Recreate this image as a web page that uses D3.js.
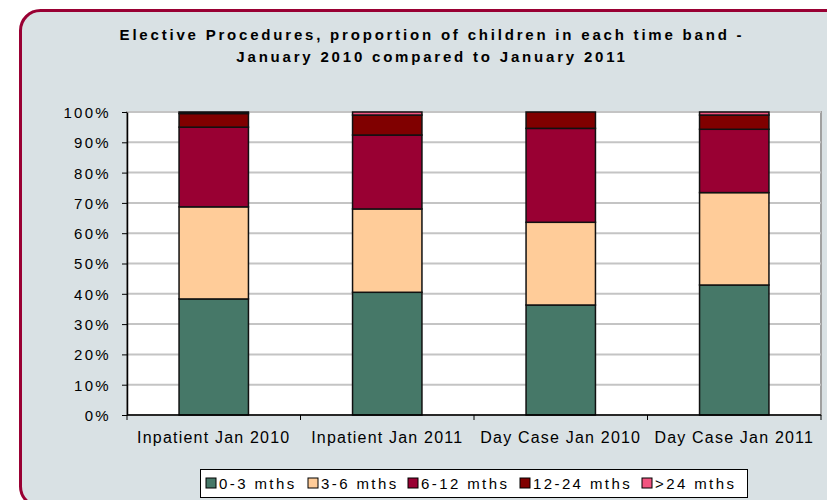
<!DOCTYPE html>
<html>
<head>
<meta charset="utf-8">
<script src="https://cdn.jsdelivr.net/npm/d3@7"></script>
<style>
  body { margin: 0; background: #fff; }
  text { font-family: "Liberation Sans", Arial, sans-serif; }
</style>
</head>
<body>
<div id="chart"></div>
<script>
// Data (percent of children per time band)
const categories = ["Inpatient Jan 2010", "Inpatient Jan 2011", "Day Case Jan 2010", "Day Case Jan 2011"];
const bands = ["0-3 mths", "3-6 mths", "6-12 mths", "12-24 mths", ">24 mths"];
const band0to3 = [38.3, 40.5, 36.3, 42.9];
const band3to6 = [30.4, 27.5, 27.3, 30.5];
const band6to12 = [26.3, 24.4, 31.0, 20.9];
const band12to24 = [4.5, 6.6, 5.4, 4.7];
const bandOver24 = [0.5, 1.0, 0.0, 1.0];
const yTicks = [0, 10, 20, 30, 40, 50, 60, 70, 80, 90, 100];
const colors = ["#467868", "#ffcc99", "#990033", "#800000", "#f25580"];

const W = 827, H = 500;
const margin = { top: 112, right: 6, bottom: 85, left: 127 };
const width = W - margin.left - margin.right;
const height = H - margin.top - margin.bottom;

const svg = d3.select("#chart").append("svg")
    .attr("width", W)
    .attr("height", H);

// Outer panel
svg.append("rect")
    .attr("x", 20.5).attr("y", 10.5)
    .attr("width", 840).attr("height", 496)
    .attr("rx", 20).attr("ry", 20)
    .attr("fill", "#d9e1e4")
    .attr("stroke", "#990033")
    .attr("stroke-width", 3);

// Title
const title = svg.append("text")
    .attr("text-anchor", "middle")
    .attr("font-size", 15)
    .attr("font-weight", "bold")
    .attr("letter-spacing", 2.8)
    .attr("fill", "#000");
title.append("tspan").attr("x", 432).attr("y", 40).text("Elective Procedures, proportion of children in each time band -");
title.append("tspan").attr("x", 432).attr("y", 62).text("January 2010 compared to January 2011");

const g = svg.append("g").attr("transform", `translate(${margin.left},${margin.top})`);

const x = d3.scaleBand().domain(categories).range([0, width]).paddingInner(0.6).paddingOuter(0.3);
const y = d3.scaleLinear().domain([0, 100]).range([height, 0]);

// Plot area
g.append("rect")
    .attr("width", width).attr("height", height)
    .attr("fill", "#fff")
    .attr("stroke", "#a0a0a0")
    .attr("stroke-width", 2);

// Gridlines
g.selectAll(".grid").data(yTicks.filter(d => d > 0)).enter().append("line")
    .attr("x1", 0).attr("x2", width)
    .attr("y1", d => y(d)).attr("y2", d => y(d))
    .attr("stroke", "#c4c4c4")
    .attr("stroke-width", 2);

// Stacked bars
const rows = categories.map((c, i) => ({
    cat: c,
    "0-3 mths": band0to3[i],
    "3-6 mths": band3to6[i],
    "6-12 mths": band6to12[i],
    "12-24 mths": band12to24[i],
    ">24 mths": bandOver24[i]
}));
const stacked = d3.stack().keys(bands)(rows);

g.selectAll(".layer").data(stacked).enter().append("g")
    .attr("fill", (d, i) => colors[i])
    .selectAll("rect").data(d => d).enter().append("rect")
    .attr("x", d => x(d.data.cat))
    .attr("y", d => y(d[1]))
    .attr("width", x.bandwidth())
    .attr("height", d => y(d[0]) - y(d[1]))
    .attr("stroke", "#111")
    .attr("stroke-width", d => (d[1] - d[0]) > 0 ? 1.5 : 0);

// Y axis
const yAxis = g.append("g")
    .call(d3.axisLeft(y).tickValues(yTicks).tickSize(5).tickSizeOuter(0).tickFormat(d => d + "%"));
yAxis.select(".domain").attr("stroke", "#000").attr("stroke-width", 1.5);
yAxis.selectAll(".tick line").attr("stroke", "#000");
yAxis.selectAll(".tick text")
    .attr("x", -16)
    .attr("dy", "0.36em")
    .attr("font-size", 15)
    .attr("letter-spacing", 2.3)
    .attr("fill", "#000")
    .style("font-family", "Liberation Sans, Arial, sans-serif");

// X axis with ticks at category boundaries
const xAxisG = g.append("g").attr("transform", `translate(0,${height})`);
xAxisG.append("line")
    .attr("x1", 0).attr("x2", width)
    .attr("stroke", "#000").attr("stroke-width", 1.5);
const bounds = d3.range(categories.length + 1).map(i => i * width / categories.length);
xAxisG.selectAll(".xt").data(bounds).enter().append("line")
    .attr("x1", d => d).attr("x2", d => d)
    .attr("y1", 0).attr("y2", 5)
    .attr("stroke", "#000");
xAxisG.selectAll(".xl").data(categories).enter().append("text")
    .attr("x", d => x(d) + x.bandwidth() / 2)
    .attr("y", 28)
    .attr("text-anchor", "middle")
    .attr("font-size", 16)
    .attr("letter-spacing", 1.2)
    .attr("fill", "#000")
    .text(d => d);

// Legend
const legend = svg.append("g").attr("transform", "translate(200,469)");
legend.append("rect")
    .attr("x", 0.5).attr("y", 0.5)
    .attr("width", 547).attr("height", 28)
    .attr("fill", "#fff")
    .attr("stroke", "#000");
const legendOffsets = [6, 108, 208, 320, 442];
const items = legend.selectAll(".item").data(bands).enter().append("g")
    .attr("transform", (d, i) => `translate(${legendOffsets[i]},9)`);
items.append("rect")
    .attr("width", 10).attr("height", 10)
    .attr("fill", (d, i) => colors[i])
    .attr("stroke", "#000");
items.append("text")
    .attr("x", 13).attr("y", 10.5)
    .attr("font-size", 15)
    .attr("letter-spacing", 2.4)
    .attr("fill", "#000")
    .text(d => d);
</script>
</body>
</html>
